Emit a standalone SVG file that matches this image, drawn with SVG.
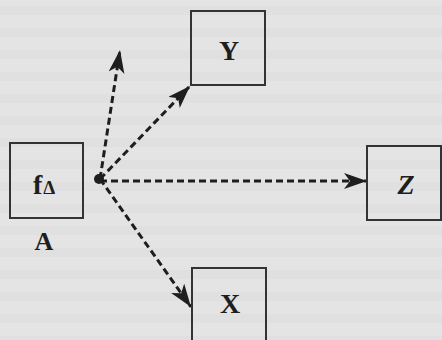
<svg xmlns="http://www.w3.org/2000/svg" width="442" height="340" viewBox="0 0 442 340">
  <defs>
    <marker id="head" markerUnits="userSpaceOnUse" markerWidth="26" markerHeight="18" refX="23" refY="8" orient="auto">
      <path d="M0,0 L23,8 L0,16 L6,8 Z" fill="#1e1e1e"/>
    </marker>
    <pattern id="paper" width="442" height="22" patternUnits="userSpaceOnUse">
      <rect width="442" height="22" fill="#e4e4e4"/>
      <rect y="6" width="442" height="9" fill="#d8d8d8" opacity="0.35"/>
    </pattern>
  </defs>
  <style>
    .box { fill: none; stroke: #333; stroke-width: 2; }
    .lbl { font-family: "Liberation Serif", "DejaVu Serif", serif; font-weight: bold; fill: #1e1e1e; text-anchor: middle; }
    .link { fill: none; stroke: #1e1e1e; stroke-width: 3; stroke-dasharray: 7 4; marker-end: url(#head); }
  </style>

  <rect width="442" height="340" fill="url(#paper)"/>

  <g id="connectors">
    <line class="link" x1="100" y1="179" x2="120" y2="50"/>
    <line class="link" x1="100" y1="179" x2="190" y2="86"/>
    <line class="link" x1="100" y1="181" x2="367" y2="181"/>
    <line class="link" x1="100" y1="179" x2="191" y2="307"/>
    <circle cx="99" cy="179" r="5" fill="#1e1e1e"/>
  </g>

  <g id="node-A">
    <rect class="box" x="10" y="143" width="73" height="75"/>
    <text class="lbl" x="44" y="194" font-size="28">f<tspan font-size="19" dx="1">Δ</tspan></text>
    <text class="lbl" x="44" y="250" font-size="26">A</text>
  </g>

  <g id="node-Y">
    <rect class="box" x="191" y="11" width="74" height="74"/>
    <text class="lbl" x="229" y="60" font-size="28">Y</text>
  </g>

  <g id="node-Z">
    <rect class="box" x="367" y="146" width="74" height="74"/>
    <text class="lbl" x="406" y="194" font-size="28" font-style="italic">Z</text>
  </g>

  <g id="node-X">
    <rect class="box" x="192" y="268" width="74" height="80"/>
    <text class="lbl" x="230" y="313" font-size="28">X</text>
  </g>
</svg>
